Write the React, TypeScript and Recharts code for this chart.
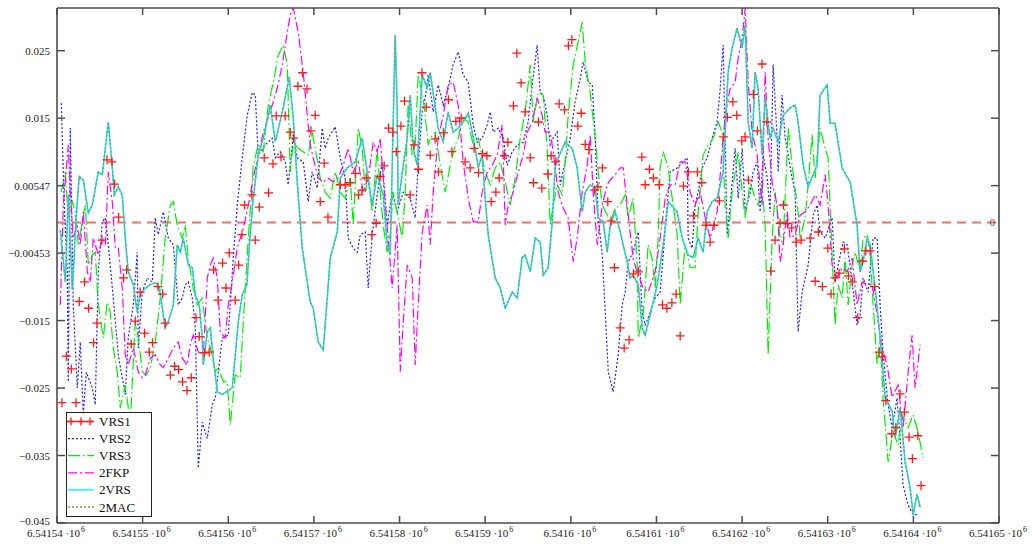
import React from 'react';
import { ComposedChart, Line, Scatter, XAxis, YAxis, ReferenceLine, Legend } from 'recharts';

// northing of the first x tick (m); series x values are offsets from it in metres, y values in mm
const X0 = 6541540;
const X_TICKS = [6541540, 6541550, 6541560, 6541570, 6541580, 6541590, 6541600, 6541610, 6541620, 6541630, 6541640, 6541650];
const X_TICK_LABELS = ['6.54154', '6.54155', '6.54156', '6.54157', '6.54158', '6.54159', '6.5416', '6.54161', '6.54162', '6.54163', '6.54164', '6.54165'];
const Y_TICKS = [-0.04453, -0.03453, -0.02453, -0.01453, -0.00453, 0.00547, 0.01547, 0.02547];
const Y_TICK_LABELS = ['\u22120.045', '\u22120.035', '\u22120.025', '\u22120.015', '\u22120.00453', '0.00547', '0.015', '0.025'];

const VRS1: [number, number][] = [
  [0.58, -26.7], [1.09, -19.8], [1.67, -21.7], [2.22, -26.7], [2.6, -11.7], [3.22, -8.8], [3.69, -12.7], [4.27, -17.8], [4.67, -14.9], [5.25, -2.6],
  [5.84, 9.3], [6.42, 9.0], [6.72, 5.7], [7.19, 0.8], [7.77, -8.2], [8.13, -7.0], [8.67, -18.0], [9.14, -14.6], [9.72, -10.3], [10.23, -16.4],
  [10.77, -19.2], [11.16, -17.8], [11.79, -9.5], [12.33, -10.6], [12.64, -14.9], [13.23, -22.6], [13.73, -21.3], [14.2, -21.8], [14.66, -23.6], [15.18, -24.9],
  [15.68, -23.0], [16.23, -14.1], [16.61, -16.9], [17.23, -19.3], [17.78, -19.2], [18.28, -7.0], [18.8, -11.5], [19.33, -6.0], [19.73, -9.7], [20.11, -4.5],
  [20.82, -11.5], [21.2, -6.3], [21.6, -1.8], [21.9, 2.6], [22.76, 4.1], [23.15, -2.6], [23.62, 2.3], [24.2, 9.6], [24.7, 4.4], [25.22, 8.7],
  [25.6, 15.8], [26.15, 9.7], [26.65, 15.8], [27.24, 13.4], [27.62, 12.5], [28.13, 20.2], [28.67, 22.2], [29.19, 19.8], [29.65, 13.6], [30.15, 15.9],
  [30.74, 3.1], [31.2, 8.8], [31.64, 0.8], [33.08, 5.6], [33.66, 5.6], [34.24, 5.9], [34.83, 7.3], [35.21, 4.1], [35.61, 4.8], [36.11, 6.6],
  [36.77, -1.8], [37.27, -0.1], [37.74, 6.8], [38.21, 8.4], [38.71, 14.0], [39.22, 13.4], [39.61, 10.5], [40.16, 14.3], [40.58, 18.0], [41.24, 4.1],
  [41.71, 11.5], [42.21, 7.9], [42.61, 22.2], [43.11, 17.1], [43.58, 10.0], [44.16, 12.4], [44.55, 7.5], [45.13, 13.3], [45.71, 18.2], [46.11, 10.5],
  [46.58, 15.0], [47.2, 15.5], [47.66, 9.0], [48.25, 8.1], [48.71, 11.0], [49.22, 7.4], [49.68, 10.2], [50.2, 9.9], [50.7, 3.1], [51.25, 4.5],
  [51.63, 6.6], [52.25, 9.9], [52.65, 11.9], [53.3, 17.3], [53.7, 25.1], [54.2, 20.7], [54.67, 16.4], [55.26, 9.6], [55.64, 5.9], [56.22, 14.9],
  [56.62, 5.1], [57.32, 7.2], [57.7, 9.9], [58.25, 9.0], [58.64, 17.6], [59.26, 16.7], [59.72, 26.2], [60.12, 27.1], [60.82, 14.3], [61.21, 16.2],
  [61.68, 11.6], [62.14, 10.8], [62.76, 4.8], [63.16, 5.3], [63.69, 8.1], [64.32, 3.1], [64.71, 0.2], [65.09, -6.7], [65.76, -15.6], [66.23, -18.6],
  [66.81, -17.4], [67.31, -7.6], [67.9, -7.3], [68.29, 9.7], [68.68, 5.6], [69.18, 7.9], [69.65, 6.6], [70.31, 5.6], [70.7, -12.2], [71.21, -12.7],
  [71.8, -11.9], [72.3, -10.6], [72.77, -16.8], [73.15, 5.4], [73.73, 7.5], [74.32, 1.0], [74.79, 7.5], [75.3, 5.9], [75.8, -0.4], [76.27, -2.9],
  [76.73, -0.4], [77.35, 3.2], [77.82, 12.7], [78.29, 15.6], [78.92, 17.9], [79.38, 15.9], [79.97, 12.1], [80.35, 12.7], [80.74, 6.3], [81.32, 19.0],
  [81.79, 13.6], [82.34, 23.5], [82.89, 14.9], [83.35, -7.2], [83.85, -2.6], [84.44, -0.1], [84.82, 2.6], [85.29, -0.1], [85.8, -0.8], [86.31, -2.9],
  [86.89, -2.6], [87.95, -2.3], [88.53, -8.7], [88.91, -1.4], [89.38, -9.5], [90.01, -3.8], [90.39, -10.6], [90.86, -8.2], [91.33, -7.5], [91.94, -3.9],
  [92.41, -7.9], [92.88, -8.8], [93.51, -14.1], [94.05, -5.7], [94.44, -4.2], [94.95, -4.2], [95.45, -9.5], [96.0, -19.2], [96.38, -19.9], [96.78, -26.4],
  [97.48, -31.3], [97.95, -30.4], [98.45, -25.4], [98.95, -28.1], [99.5, -31.8], [99.89, -35.0], [100.52, -31.6], [100.9, -39.0],
];

const VRS2: [number, number][] = [
  [0.5, 17.7], [0.85, 2.6], [1.2, -7.3], [1.32, -23.6], [1.55, 14.0], [1.9, -12.2], [2.37, -24.5], [2.72, -17.7], [3.07, -28.5], [3.42, -22.2],
  [4.12, -24.5], [4.47, -27.0], [4.82, -7.3], [5.29, 0.1], [5.64, 0.7], [5.99, -3.3], [6.57, -11.2], [7.16, -19.7], [7.97, -25.5], [8.32, -17.1],
  [8.91, -12.2], [9.37, -4.4], [9.49, -18.6], [9.96, -10.3], [10.54, -8.2], [11.13, -8.8], [11.48, 0.7], [11.83, -1.8], [12.41, 1.6], [13.0, -2.3],
  [13.58, -3.3], [14.16, -12.2], [14.63, -11.2], [14.98, -9.2], [15.33, -8.8], [15.8, -11.2], [16.15, -15.6], [16.5, -36.4], [16.96, -29.6], [17.55, -32.0],
  [18.13, -27.0], [18.48, -26.0], [19.3, -17.1], [20.0, -16.7], [20.58, -5.3], [21.05, 2.6], [21.63, 9.6], [22.22, 15.9], [22.8, 19.3], [23.15, 18.9],
  [23.5, 10.0], [24.32, 11.5], [25.13, 12.5], [25.49, 9.6], [26.07, 10.5], [26.65, 9.0], [27.0, 5.6], [27.59, 13.0], [28.05, 9.6], [28.75, 9.0],
  [29.34, 3.1], [29.8, 7.5], [30.38, 5.1], [30.97, 14.0], [31.32, 11.0], [31.67, 12.5], [32.49, 14.2], [33.08, 9.6], [33.66, 6.6], [34.01, -2.3],
  [34.59, -3.8], [35.06, -4.4], [35.41, -1.8], [35.99, -1.4], [36.34, -9.7], [36.81, -1.8], [37.39, 4.1], [37.98, 9.0], [38.56, -0.4], [39.14, 4.5],
  [39.72, 1.6], [40.43, 4.5], [41.25, 3.6], [41.83, 0.7], [42.18, 8.5], [42.65, 16.4], [43.0, 18.5], [43.35, 21.9], [43.93, 16.4], [44.51, 20.4],
  [45.1, 17.4], [45.68, 19.9], [46.26, 23.4], [46.85, 25.3], [47.43, 21.9], [48.02, 20.8], [48.6, 14.5], [49.07, 11.9], [49.65, 12.5], [50.24, 14.5],
  [50.59, 16.4], [50.94, 13.4], [51.52, 14.0], [52.11, 12.5], [52.57, 8.5], [53.16, 10.5], [53.74, 11.5], [54.44, 11.9], [55.02, 14.9], [55.49, 20.4],
  [56.07, 26.3], [56.42, 19.3], [56.77, 18.9], [57.24, 15.9], [57.59, 11.5], [57.94, 12.5], [58.41, 13.4], [58.76, 5.6], [59.34, 9.0], [59.93, 12.5],
  [60.51, 17.9], [61.1, 21.4], [61.45, 23.8], [62.03, 20.8], [62.5, 20.4], [62.85, 12.5], [63.2, 0.7], [63.67, -4.8], [64.02, -13.3], [64.37, -22.1],
  [64.95, -25.1], [65.53, -19.6], [66.0, -12.2], [66.35, -10.3], [66.7, -5.8], [67.28, -4.4], [67.87, -1.4], [68.33, -13.3], [68.68, -15.2], [69.27, -13.3],
  [69.85, -11.2], [70.43, -10.3], [70.79, -4.8], [71.25, 2.6], [71.6, 7.5], [72.42, 8.1], [73.12, 9.0], [73.59, 9.6], [73.7, -2.3], [74.17, -3.8],
  [74.52, 2.6], [74.87, 4.5], [75.34, 8.1], [75.92, 9.6], [76.5, 12.5], [77.09, 14.9], [77.44, 19.9], [77.79, 26.3], [78.26, -1.8], [78.61, 2.6],
  [79.19, 11.0], [79.54, 3.6], [80.01, 11.0], [80.36, 1.6], [80.94, 4.5], [81.29, 7.5], [81.76, 9.0], [82.11, 1.6], [82.46, 10.0], [82.93, 6.6],
  [83.27, 1.6], [83.62, 23.4], [84.09, 12.5], [84.21, 7.5], [84.67, 18.9], [85.03, 12.5], [85.38, 10.0], [85.84, 6.6], [86.19, 4.5], [86.54, -16.2],
  [87.01, -10.3], [87.71, -6.3], [88.3, 1.1], [88.76, 2.6], [89.11, -1.4], [89.7, -2.3], [90.51, 0.7], [90.86, -8.8], [91.21, -6.3], [91.8, -2.9],
  [92.27, -3.3], [92.85, -8.8], [93.43, -15.2], [93.78, -13.7], [94.13, -8.2], [94.72, -10.3], [95.3, -2.3], [95.77, -2.3], [96.12, -12.2], [96.47, -19.6],
  [97.05, -27.0], [97.52, -30.4], [98.1, -26.0], [98.45, -31.9], [98.8, -38.9], [99.39, -41.9], [99.97, -43.3], [100.55, -43.3],
];

const VRS3: [number, number][] = [
  [0.5, 4.5], [0.97, 7.5], [1.32, 0.7], [1.79, 3.1], [2.14, 1.6], [2.49, -3.3], [2.96, 0.1], [3.31, 2.6], [3.66, -6.3], [4.12, -4.8],
  [4.47, -4.4], [4.82, -12.2], [5.41, -17.1], [5.87, -11.8], [6.22, -13.3], [6.57, -18.6], [7.04, -22.1], [7.39, -27.5], [7.97, -24.1], [8.56, -29.6],
  [9.14, -14.7], [9.49, -17.1], [9.96, -22.1], [10.42, -22.6], [10.89, -21.5], [11.48, -17.7], [12.06, -11.2], [12.64, -2.3], [13.23, 2.6], [13.58, 3.1],
  [14.04, -0.4], [14.63, -2.3], [14.98, -0.4], [15.33, -5.3], [15.91, -9.7], [16.38, -12.2], [16.96, -11.2], [17.55, -17.1], [18.13, -19.6], [18.48, -22.1],
  [18.83, -21.5], [19.42, -23.6], [19.88, -23.6], [20.23, -30.0], [20.82, -22.6], [21.4, -23.0], [21.75, -14.7], [22.34, -2.3], [22.92, 8.5], [23.5, 11.5],
  [24.09, 10.5], [24.67, 17.4], [25.26, 20.8], [25.84, 24.8], [26.42, 26.3], [26.89, 23.4], [27.24, 7.5], [27.59, 11.9], [28.17, 11.0], [28.75, 10.5],
  [29.34, 10.0], [29.8, 13.4], [30.15, 11.0], [30.74, 6.6], [31.32, 4.5], [31.91, 3.6], [32.49, 7.5], [33.08, 4.5], [33.66, 3.6], [34.24, 6.6],
  [34.59, -0.4], [35.18, 14.0], [35.64, 11.0], [35.99, 4.5], [36.34, 6.6], [36.81, 1.6], [37.39, 11.0], [37.74, 4.5], [38.09, -0.4], [38.56, -4.4],
  [38.91, -1.8], [39.26, 4.5], [39.72, 1.6], [40.31, -2.3], [40.66, 4.5], [41.01, 17.9], [41.48, 10.0], [41.83, 11.5], [42.18, 21.9], [42.76, 18.5],
  [43.35, 11.5], [43.58, 12.5], [44.16, 13.4], [44.75, 8.5], [45.33, 4.5], [45.92, 8.5], [46.5, 11.5], [46.85, 12.5], [47.43, 15.5], [48.02, 14.9],
  [48.6, 11.5], [49.19, 12.5], [49.65, 9.6], [50.0, 7.5], [50.59, 5.6], [51.17, 8.1], [51.75, 9.0], [52.34, 6.0], [52.92, 2.6], [53.51, 6.6],
  [54.09, 12.5], [54.67, 16.4], [55.26, 23.4], [55.61, 14.9], [56.19, 19.3], [56.77, 18.9], [57.24, 11.0], [57.59, -0.4], [57.94, 2.6], [58.41, 5.6],
  [58.99, 4.1], [59.34, 9.0], [59.69, 15.9], [60.28, 23.4], [60.86, 26.8], [61.33, 29.7], [61.68, 23.8], [62.26, 19.3], [62.85, 12.5], [63.2, 7.5],
  [63.67, 2.6], [64.25, 1.1], [64.6, 0.1], [65.18, 2.1], [65.76, 2.6], [66.35, 4.1], [66.7, 0.7], [67.28, 3.6], [67.75, -6.3], [67.87, -17.1],
  [68.45, -13.7], [69.03, -3.3], [69.5, -5.3], [69.85, -9.7], [70.2, -2.3], [70.43, 8.1], [70.79, 10.5], [71.37, 8.1], [71.84, 3.6], [72.42, -1.8],
  [72.77, -12.2], [73.35, -3.3], [73.94, -6.7], [74.52, -6.7], [74.87, 1.6], [75.45, 10.0], [76.04, 11.5], [76.62, 12.5], [77.21, 14.9], [77.67, 13.4],
  [78.02, 2.6], [78.37, -2.3], [78.84, 4.5], [79.19, 7.5], [79.54, 10.5], [80.01, 4.5], [80.36, 0.7], [80.94, 6.0], [81.52, 3.6], [81.87, 2.6],
  [82.34, 5.6], [82.69, -0.4], [83.04, -19.6], [83.51, -2.3], [83.86, 4.5], [84.44, -2.3], [84.79, -3.3], [85.38, 14.0], [85.84, 8.5], [86.19, 5.1],
  [86.54, 1.6], [86.78, -2.3], [87.36, 0.7], [87.71, 5.6], [88.18, 13.0], [88.53, 6.6], [89.11, 14.0], [89.7, 11.0], [90.05, 9.6], [90.51, -4.8],
  [90.86, -15.2], [91.21, -9.2], [91.68, -11.2], [92.03, -5.3], [92.38, -12.2], [92.85, -6.3], [93.2, -4.4], [93.78, -7.3], [94.13, -2.3], [94.6, -1.8],
  [94.95, -4.4], [95.3, -12.2], [95.77, -21.1], [96.12, -17.1], [96.47, -26.0], [97.05, -35.5], [97.64, -31.0], [98.22, -33.0], [98.69, -28.5], [99.39, -30.4],
  [99.97, -28.5], [100.55, -31.0], [101.13, -34.9],
];

const FKP2: [number, number][] = [
  [0.39, -12.2], [0.74, 2.6], [1.32, 11.5], [1.55, 4.5], [1.9, -2.3], [2.37, -0.4], [2.72, -3.3], [3.07, 1.6], [3.54, -7.3], [3.89, -8.8],
  [4.24, -2.3], [4.82, -4.8], [5.29, -2.3], [5.64, -3.3], [5.99, 7.5], [6.46, 3.1], [6.81, -3.8], [7.16, -3.8], [7.62, -9.7], [7.97, -19.6],
  [8.32, -21.1], [8.91, -18.6], [9.49, -22.1], [9.96, -23.0], [10.31, -22.6], [10.89, -20.1], [11.48, -19.6], [12.06, -21.1], [12.41, -21.5], [13.0, -20.1],
  [13.58, -18.6], [14.16, -17.7], [14.63, -20.1], [15.21, -21.1], [15.56, -18.1], [15.91, -16.7], [16.5, -19.2], [17.08, -19.6], [17.55, -8.2], [17.9, -6.3],
  [18.25, -5.3], [18.72, -8.2], [19.07, -16.2], [19.65, -17.1], [20.0, -12.2], [20.47, -8.8], [21.05, -3.8], [21.63, -1.4], [21.98, 0.4], [22.34, 2.6],
  [22.92, 6.6], [23.5, 10.0], [24.09, 13.4], [24.9, 16.4], [25.72, 19.9], [26.31, 23.4], [26.89, 28.2], [27.24, 30.8], [27.59, 31.8], [28.17, 28.2],
  [28.75, 22.3], [29.22, 15.9], [29.57, 11.5], [29.92, 9.6], [30.5, 6.6], [31.09, 6.0], [31.67, 6.6], [32.26, 6.0], [32.84, 6.6], [33.42, 8.5],
  [34.01, 11.0], [34.59, 7.5], [35.18, 9.0], [35.76, 4.5], [36.34, 6.6], [36.93, 11.9], [37.39, 10.5], [37.74, 12.5], [38.33, 2.6], [38.68, -2.3],
  [39.14, -9.7], [39.72, -0.4], [40.08, -22.1], [40.43, -14.7], [40.9, -6.3], [41.48, -8.2], [41.83, -21.1], [42.18, -12.2], [42.65, -1.4], [43.23, 2.6],
  [43.58, -3.3], [43.93, 4.5], [44.51, 12.5], [45.1, 15.9], [45.68, 20.4], [46.26, 20.8], [46.85, 17.4], [47.43, 9.0], [48.02, 3.6], [48.6, 0.1],
  [49.19, 0.1], [49.65, 4.5], [50.24, 7.5], [50.82, 8.5], [51.4, 10.0], [51.99, 14.5], [52.34, -0.4], [52.69, 2.6], [53.27, 4.5], [53.86, 7.5],
  [54.44, 10.0], [54.91, 13.4], [55.49, 14.9], [56.07, 18.5], [56.65, 15.9], [57.0, 13.4], [57.59, 13.4], [57.94, 10.5], [58.53, 4.5], [59.11, 2.1],
  [59.69, 0.7], [60.28, -5.8], [60.74, -2.3], [61.33, 4.5], [61.91, 8.5], [62.26, 13.0], [62.61, 4.5], [63.08, -3.3], [63.67, 2.6], [64.25, 5.6],
  [64.6, 6.3], [65.18, 7.1], [65.76, 8.1], [66.12, 8.1], [66.7, 1.1], [67.28, -5.3], [67.87, -7.8], [68.45, -9.7], [69.03, -10.3], [69.85, -7.3],
  [70.43, -2.3], [71.02, 3.6], [71.6, 5.6], [72.19, 5.6], [72.77, 9.0], [73.35, 9.0], [73.94, 4.5], [74.52, 2.6], [75.11, 4.5], [75.69, 0.7],
  [76.27, -2.3], [77.09, 1.6], [77.67, 10.5], [78.02, 15.9], [78.61, 19.9], [79.19, 20.8], [79.54, 24.4], [80.01, 27.3], [80.36, 31.8], [80.71, 20.8],
  [81.17, 13.4], [81.76, 10.0], [82.34, 2.6], [82.69, 22.3], [83.04, 12.5], [83.51, 6.0], [84.09, 2.6], [84.44, -5.8], [84.79, -3.3], [85.26, 1.6],
  [85.61, -2.3], [86.19, -1.8], [86.78, 1.1], [87.36, 1.6], [87.95, 2.6], [88.53, 4.1], [89.11, 2.6], [89.7, 7.1], [90.05, 2.6], [90.51, -6.3],
  [91.1, -8.2], [91.68, -6.7], [92.27, -7.3], [92.85, -5.3], [93.43, -12.2], [94.01, -8.8], [94.6, -9.2], [95.18, -9.2], [95.77, -13.7], [96.35, -18.6],
  [96.93, -21.1], [97.52, -25.9], [98.22, -24.1], [98.8, -30.4], [99.39, -22.1], [99.85, -16.7], [100.2, -24.5], [100.79, -18.1],
];

const VRS2B: [number, number][] = [
  [0.39, -1.1], [0.97, -8.8], [1.32, 4.1], [1.79, -10.0], [2.25, 1.1], [2.6, 6.8], [3.07, 6.3], [3.66, 1.4], [4.12, 2.6], [4.82, 7.5],
  [5.29, 7.1], [5.99, 14.9], [6.46, 8.1], [6.69, 4.1], [7.16, 5.3], [7.62, 4.1], [7.97, -2.3], [8.32, -7.3], [8.91, -9.2], [9.37, -13.3],
  [9.72, -10.7], [10.07, -10.0], [10.89, -9.2], [11.48, -8.9], [11.94, -9.7], [12.29, -12.6], [12.64, -15.6], [12.99, -14.7], [13.58, -12.2], [14.04, -3.3],
  [14.39, -4.4], [14.74, -2.3], [15.33, -6.3], [15.8, -6.7], [16.15, -10.7], [16.61, -12.2], [16.96, -17.1], [17.08, -21.1], [17.55, -16.2], [17.9, -15.6],
  [18.25, -20.1], [18.72, -25.1], [19.3, -25.5], [19.77, -25.1], [20.47, -24.5], [20.82, -19.6], [21.17, -14.7], [21.63, -10.7], [22.18, -9.2], [22.57, -1.4],
  [22.92, 3.6], [23.5, 10.0], [24.09, 12.5], [24.9, 17.4], [25.49, 12.0], [26.31, 16.4], [27.12, 21.6], [27.59, 15.5], [28.05, 6.0], [28.64, -3.8],
  [29.57, -11.8], [29.92, -12.7], [30.5, -17.7], [31.09, -18.9], [31.56, -11.2], [31.91, -5.2], [32.73, -1.4], [33.08, 6.6], [33.89, 8.1], [34.83, 9.0],
  [35.64, 12.5], [36.23, 7.5], [36.81, 2.6], [37.39, 7.1], [38.09, 4.1], [38.56, -3.3], [38.91, -4.8], [39.26, 14.9], [39.49, 27.8], [39.72, 17.4],
  [39.84, 2.6], [40.43, 8.5], [40.9, 12.5], [41.25, 18.9], [41.6, 11.0], [42.06, 8.5], [42.65, 21.9], [43.23, 19.9], [43.58, 22.3], [44.51, 14.0],
  [45.1, 12.0], [45.68, 16.4], [46.26, 13.4], [46.85, 14.0], [47.43, 14.9], [48.02, 16.2], [48.49, 13.4], [48.84, 11.0], [49.19, 8.1], [49.65, 10.0],
  [50.0, 3.6], [50.35, -1.8], [51.17, -8.2], [51.75, -9.7], [52.34, -12.7], [53.16, -10.3], [53.74, -11.2], [54.32, -5.2], [54.67, -4.8], [55.26, -7.3],
  [55.84, -2.3], [56.43, -2.9], [56.78, -7.8], [57.36, -6.7], [57.83, 0.1], [58.18, 8.5], [58.53, 9.6], [59.34, 11.9], [60.16, 11.0], [60.74, 8.1],
  [61.33, 1.6], [61.68, 4.5], [62.26, 5.6], [62.85, 5.1], [63.2, 0.7], [63.78, 0.1], [64.25, -4.4], [64.6, -0.4], [65.18, 1.6], [65.76, -1.4],
  [66.58, -5.8], [66.93, -8.2], [67.28, -7.8], [67.87, -9.2], [68.33, -15.6], [68.68, -16.7], [69.27, -13.7], [70.09, -9.2], [70.79, -3.3], [71.37, 3.1],
  [72.42, 1.6], [73.0, -2.3], [73.7, -4.8], [74.29, -5.2], [74.87, -2.3], [75.45, -4.4], [75.92, 1.6], [76.5, 3.1], [77.09, 3.6], [77.79, 7.5],
  [78.37, 22.3], [78.84, 25.9], [79.42, 28.8], [80.01, 25.9], [80.36, 29.3], [80.71, 14.9], [81.17, 11.0], [81.52, 22.3], [81.87, 19.9], [82.34, 10.0],
  [82.69, 18.5], [83.27, 12.5], [83.62, 14.0], [84.21, 11.9], [84.79, 15.9], [85.61, 17.0], [86.19, 17.4], [86.54, 14.9], [87.13, 8.5], [87.71, 5.3],
  [88.3, 7.1], [88.76, 8.5], [89.11, 18.9], [89.93, 20.4], [90.28, 14.7], [90.86, 14.7], [91.68, 8.1], [92.62, 6.0], [93.43, -0.4], [93.78, -7.3],
  [94.13, -5.8], [94.6, -2.3], [94.95, -3.3], [95.53, -9.7], [96.12, -17.1], [96.7, -25.9], [97.52, -28.0], [97.87, -31.9], [98.45, -27.5], [99.04, -35.5],
  [99.62, -39.3], [99.97, -43.3], [100.44, -40.3], [100.79, -42.2],
];

// 2MAC lies on top of 2VRS over the whole run
const MAC2 = VRS2B;

const toPoints = (rows: [number, number][]) => rows.map(([dx, mm]) => ({ x: X0 + dx, y: mm / 1000 }));

const FONT = 'Liberation Serif, DejaVu Serif, serif';
const INK = '#222';
const AXIS_COLOR = '#4d4d4d';
const AXIS_LINE = { stroke: AXIS_COLOR, strokeWidth: 1.6 };

const LINES = [
  { name: 'VRS2', rows: VRS2, color: '#1f1fff', width: 1.2, dash: '2 2' },
  { name: 'VRS3', rows: VRS3, color: '#00f000', width: 1.2, dash: '12 3 1.5 3' },
  { name: '2FKP', rows: FKP2, color: '#ff00ff', width: 1.2, dash: '9 3 2 3' },
  { name: '2VRS', rows: VRS2B, color: '#00f2f2', width: 1.6, dash: undefined },
  { name: '2MAC', rows: MAC2, color: '#a88460', width: 1.2, dash: '2 2' },
];

function Plus({ cx, cy }: any) {
  return <path d={`M${cx - 4.5},${cy}h9M${cx},${cy - 4.5}v9`} stroke="#ff1a1a" strokeWidth={1.3} fill="none" />;
}

function LeftTick({ x, y, payload }: any) {
  const i = Y_TICKS.findIndex((v) => Math.abs(v - payload.value) < 1e-9);
  return (
    <g>
      <line x1={x} x2={x + 8} y1={y} y2={y} stroke={AXIS_COLOR} strokeWidth={1.5} />
      <text x={x - 7} y={y + (i === 0 ? 2 : 4)} textAnchor="end" style={{ fontFamily: FONT }} fontSize={11} fill={INK}>
        {Y_TICK_LABELS[i]}
      </text>
    </g>
  );
}

function RightTick({ x, y }: any) {
  return <line x1={x} x2={x - 8} y1={y} y2={y} stroke={AXIS_COLOR} strokeWidth={1.5} />;
}

function BottomTick({ x, y, payload }: any) {
  const label = X_TICK_LABELS[X_TICKS.indexOf(payload.value)];
  return (
    <g>
      <line x1={x} x2={x} y1={y} y2={y - 7} stroke={AXIS_COLOR} strokeWidth={1.5} />
      <text x={x - 1} y={y + 14} textAnchor="middle" style={{ fontFamily: FONT }} fontSize={11} fill={INK}>
        {label} {'\u00b710'}
        <tspan dx={1} dy={-5} fontSize={8}>6</tspan>
      </text>
    </g>
  );
}

function TopTick({ x, y }: any) {
  return <line x1={x} x2={x} y1={y} y2={y + 7} stroke={AXIS_COLOR} strokeWidth={1.5} />;
}

function LegendBox() {
  const rows = [
    { name: 'VRS1', color: '#ff1a1a', dash: undefined, plus: true },
    ...LINES.map((l) => ({ name: l.name, color: l.color, dash: l.dash, plus: false })),
  ];
  return (
    <svg width={87} height={106} style={{ display: 'block' }}>
      <rect x={0.5} y={0.5} width={85} height={104} fill="#fff" stroke="#222" strokeWidth={1} />
      {rows.map((r, i) => {
        const cy = 9.5 + i * 17.1;
        return (
          <g key={r.name}>
            <line x1={2} x2={28} y1={cy} y2={cy} stroke={r.color} strokeWidth={1.3} strokeDasharray={r.dash} />
            {r.plus && [5, 15, 24].map((px) => (
              <path key={px} d={`M${px - 4},${cy}h8M${px},${cy - 4}v8`} stroke={r.color} strokeWidth={1.3} />
            ))}
            <text x={33} y={cy + 4.5} style={{ fontFamily: FONT }} fontSize={13} fill="#111">{r.name}</text>
          </g>
        );
      })}
    </svg>
  );
}

export default function App() {
  const xDomain = [X0, X0 + 110];
  const yDomain = [-0.04453, 0.0318];
  return (
    <div style={{ position: 'absolute', left: 0, top: 0, width: 1032, height: 549, background: '#fff' }}>
      <ComposedChart width={1032} height={549} margin={{ top: 0, right: 0, bottom: 0, left: 0 }}>
        <XAxis dataKey="x" type="number" domain={xDomain} ticks={X_TICKS} interval={0} allowDataOverflow
          height={26} tickSize={0} tickMargin={0} tickLine={false} axisLine={AXIS_LINE} tick={BottomTick} />
        <XAxis xAxisId="top" orientation="top" dataKey="x" type="number" domain={xDomain} ticks={X_TICKS} interval={0} allowDataOverflow
          height={8} tickSize={0} tickMargin={0} tickLine={false} axisLine={AXIS_LINE} tick={TopTick} />
        <YAxis type="number" domain={yDomain} ticks={Y_TICKS} interval={0} allowDataOverflow
          width={57} tickSize={0} tickMargin={0} tickLine={false} axisLine={AXIS_LINE} tick={LeftTick} />
        <YAxis yAxisId="right" orientation="right" type="number" domain={yDomain} ticks={Y_TICKS} interval={0} allowDataOverflow
          width={33} tickSize={0} tickMargin={0} tickLine={false} axisLine={AXIS_LINE} tick={RightTick} />

        <ReferenceLine y={0} stroke="#ff6b6b" strokeWidth={2} strokeDasharray="9 6"
          label={{ value: '0', position: 'insideRight', offset: 4, fill: '#555', fontSize: 11, fontFamily: FONT }} />

        {LINES.map((l) => (
          <Line key={l.name} name={l.name} data={toPoints(l.rows)} dataKey="y" type="linear" stroke={l.color}
            strokeWidth={l.width} strokeDasharray={l.dash} dot={false} activeDot={false} isAnimationActive={false} />
        ))}
        <Scatter name="VRS1" data={toPoints(VRS1)} dataKey="y" shape={Plus} isAnimationActive={false} />

        <Legend layout="vertical" align="center" verticalAlign="middle" content={LegendBox}
          wrapperStyle={{ position: 'absolute', left: 66, top: 412, width: 'auto', height: 'auto' }} />
      </ComposedChart>
    </div>
  );
}
